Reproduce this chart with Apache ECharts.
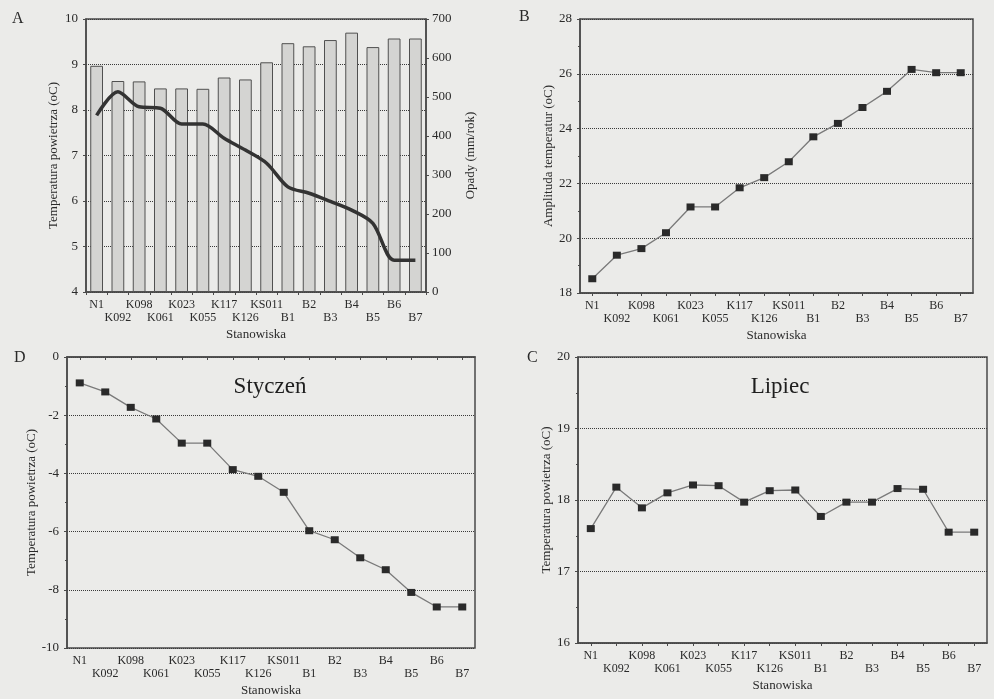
<!DOCTYPE html>
<html>
<head>
<meta charset="utf-8">
<script src="https://cdn.jsdelivr.net/npm/echarts@6/dist/echarts.min.js"></script>
<style>
html,body{margin:0;padding:0;background:#ebebe9;}
#c{width:994px;height:699px;}
</style>
</head>
<body>
<div id="c"></div>
<script>
// ---- data ----
const stations = ['N1','K092','K098','K061','K023','K055','K117','K126','KS011','B1','B2','B3','B4','B5','B6','B7'];
const precipA = [580,541,540,522,522,521,550,545,589,638,630,646,665,628,650,650];
const meanTempA = [7.88,8.40,8.07,8.04,7.69,7.69,7.38,7.12,6.83,6.31,6.17,5.99,5.80,5.51,4.70,4.70];
const amplitudeB = [18.52,19.38,19.62,20.20,21.14,21.14,21.84,22.21,22.79,23.70,24.19,24.77,25.36,26.16,26.04,26.04];
const januaryD = [-0.89,-1.20,-1.73,-2.13,-2.96,-2.96,-3.87,-4.10,-4.65,-5.97,-6.28,-6.90,-7.31,-8.09,-8.59,-8.59];
const julyC = [17.60,18.18,17.89,18.10,18.21,18.20,17.97,18.13,18.14,17.77,17.97,17.97,18.16,18.15,17.55,17.55];
const titleD = 'Styczeń';
const titleC = 'Lipiec';

const FONT = '"Liberation Serif", "DejaVu Serif", serif';
const AX = '#4a4a4a';
const TXT = '#2a2a2a';

function xAxisCfg(gridIndex, align){
  return {
    type:'category', gridIndex, data: stations,
    name:'Stanowiska', nameLocation:'middle', nameGap:36,
    nameTextStyle:{fontFamily:FONT,fontSize:13,color:TXT},
    axisLine:{lineStyle:{color:AX,width:1.5}},
    axisTick:{show:true,alignWithLabel:align,length:3,inside:false,lineStyle:{color:AX}},
    axisLabel:{interval:0,fontFamily:FONT,fontSize:12,color:TXT,margin:6,lineHeight:13,
      formatter:(v,i)=> (i%2===0? v : '\n'+v)},
    splitLine:{show:false}
  };
}
function yAxisCfg(gridIndex, min, max, interval, name, gap){
  return {
    type:'value', gridIndex, min, max, interval,
    name, nameLocation:'middle', nameGap:gap, nameRotate:90,
    nameTextStyle:{fontFamily:FONT,fontSize:13,color:TXT},
    axisLine:{show:true,lineStyle:{color:AX,width:1.5}},
    axisTick:{show:true,length:3,lineStyle:{color:AX}},
    minorTick:{show:true,splitNumber:2,length:2,lineStyle:{color:AX}},
    axisLabel:{fontFamily:FONT,fontSize:13,color:TXT,margin:8},
    splitLine:{show:true,lineStyle:{type:'dotted',color:'#3a3a3a',width:1}}
  };
}
function lineSeries(xi, yi, data){
  return {
    type:'line', xAxisIndex:xi, yAxisIndex:yi, data,
    symbol:'rect', symbolSize:[8,7],
    itemStyle:{color:'#2a2a2a'},
    lineStyle:{color:'#7a7a7a',width:1.3},
    z:5
  };
}

const chart = echarts.init(document.getElementById('c'));
const gridStyle = {show:true,borderColor:AX,borderWidth:1.5,backgroundColor:'transparent',containLabel:false};

const yA = yAxisCfg(0,4,10,1,'Temperatura powietrza (oC)',26);
yA.minorTick = {show:false};
yA.splitLine.interval = 0;
const yA2 = {
  type:'value', gridIndex:0, min:0, max:700, interval:100, position:'right',
  name:'Opady (mm/rok)', nameLocation:'middle', nameGap:38, nameRotate:90,
  nameTextStyle:{fontFamily:FONT,fontSize:13,color:TXT},
  axisLine:{show:true,lineStyle:{color:AX,width:1.5}},
  axisTick:{show:true,length:3,lineStyle:{color:AX}},
  axisLabel:{fontFamily:FONT,fontSize:13,color:TXT,margin:6},
  splitLine:{show:false}
};

chart.setOption({
  backgroundColor:'#ebebe9',
  animation:false,
  title:[
    {text:'A',left:7,top:6,textStyle:{fontFamily:FONT,fontSize:16,fontWeight:'normal',color:TXT}},
    {text:'B',left:514,top:4,textStyle:{fontFamily:FONT,fontSize:16,fontWeight:'normal',color:TXT}},
    {text:'D',left:9,top:345,textStyle:{fontFamily:FONT,fontSize:16,fontWeight:'normal',color:TXT}},
    {text:'C',left:522,top:345,textStyle:{fontFamily:FONT,fontSize:16,fontWeight:'normal',color:TXT}},
    {text:titleD,left:265,top:370,textAlign:'center',textStyle:{fontFamily:FONT,fontSize:23,fontWeight:'normal',color:'#1e1e1e'}},
    {text:titleC,left:775,top:370,textAlign:'center',textStyle:{fontFamily:FONT,fontSize:23,fontWeight:'normal',color:'#1e1e1e'}}
  ],
  grid:[
    Object.assign({left:86,top:19,width:340,height:273},gridStyle),
    Object.assign({left:580,top:19,width:393,height:274},gridStyle),
    Object.assign({left:67,top:357,width:408,height:291},gridStyle),
    Object.assign({left:578,top:357,width:409,height:286},gridStyle)
  ],
  xAxis:[
    xAxisCfg(0,false),
    xAxisCfg(1,true),
    xAxisCfg(2,true),
    xAxisCfg(3,true)
  ],
  yAxis:[
    yA,
    yA2,
    yAxisCfg(1,18,28,2,'Amplituda temperatur (oC)',24),
    yAxisCfg(2,-10,0,2,'Temperatura powietrza (oC)',26),
    yAxisCfg(3,16,20,1,'Temperatura powietrza (oC)',24)
  ],
  series:[
    {type:'bar',xAxisIndex:0,yAxisIndex:1,data:precipA,barWidth:'60%',
      itemStyle:{color:'#d4d4d2',borderColor:'#505050',borderWidth:1},z:2},
    {type:'line',xAxisIndex:0,yAxisIndex:0,data:meanTempA,smooth:0.3,symbol:'none',
      lineStyle:{color:'#333',width:3.5},z:5},
    lineSeries(1,2,amplitudeB),
    lineSeries(2,3,januaryD),
    lineSeries(3,4,julyC)
  ]
});
</script>
</body>
</html>
